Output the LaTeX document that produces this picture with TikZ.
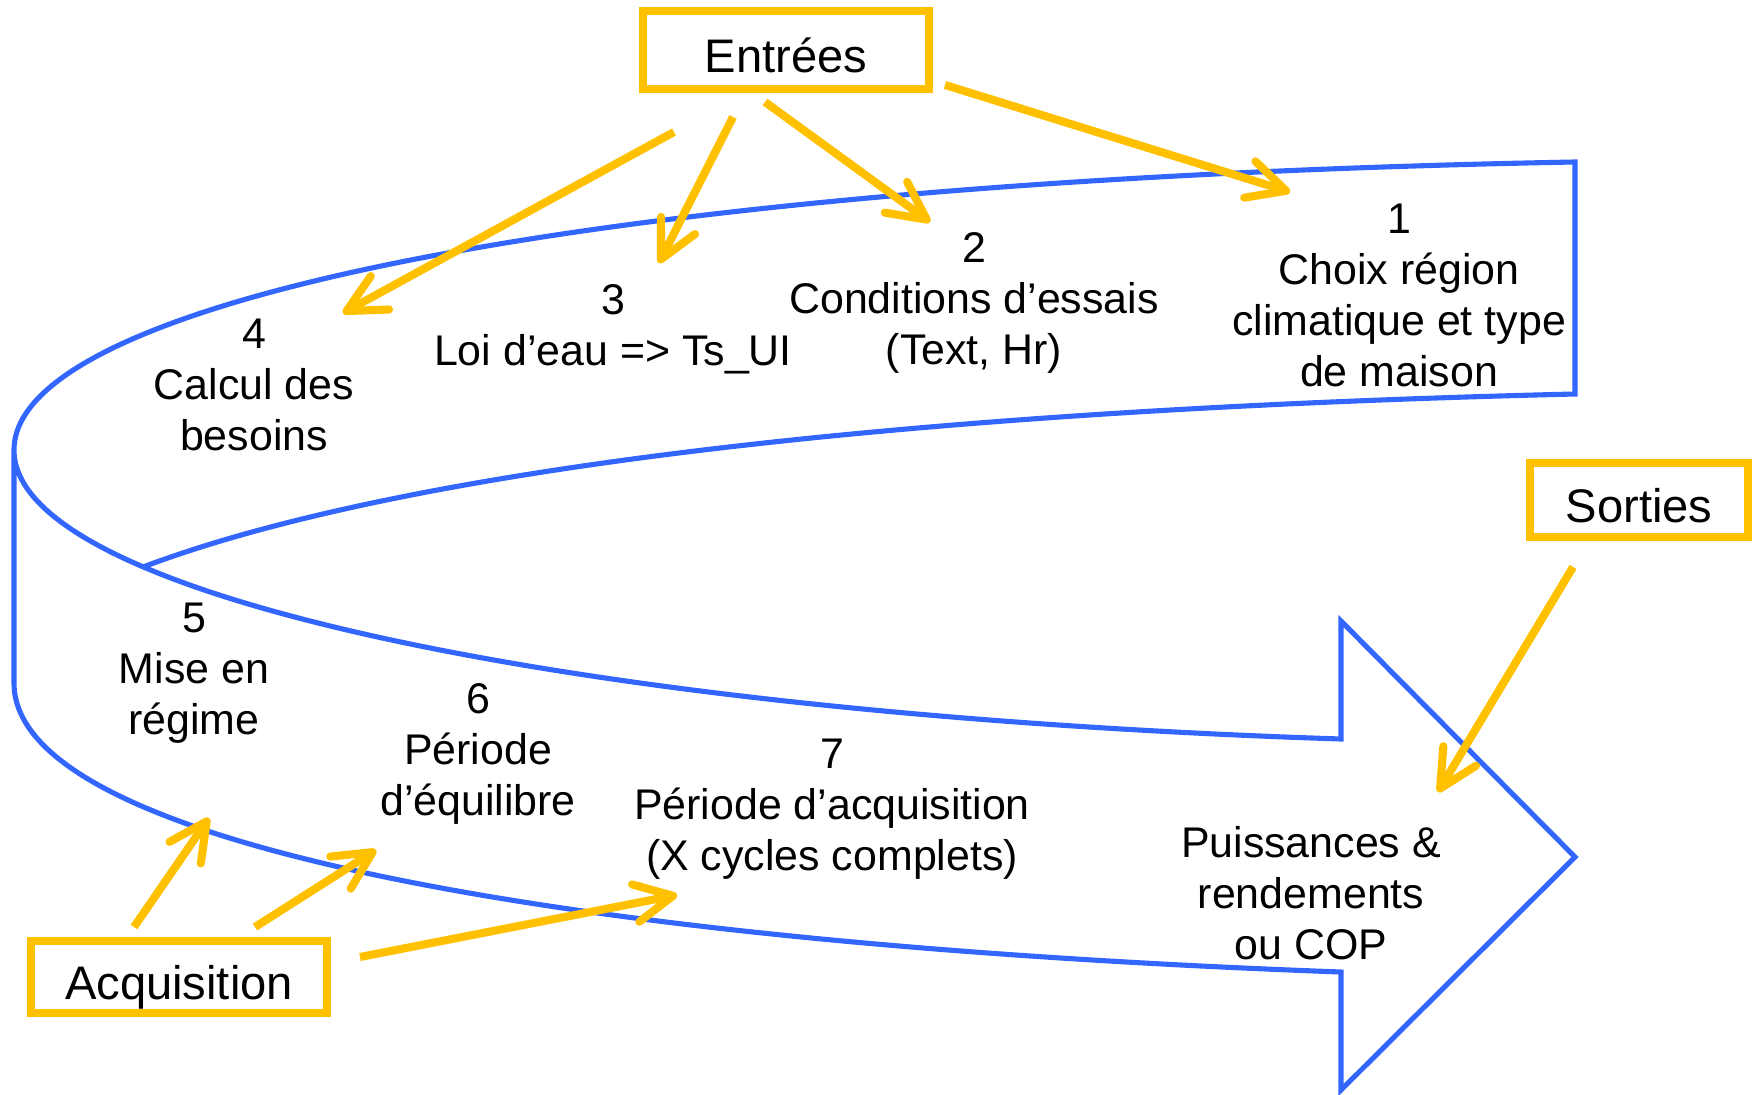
\documentclass[tikz,border=0pt]{standalone}
\usepackage{fontspec}
\setmainfont{Liberation Sans}
\usetikzlibrary{arrows.meta}
\definecolor{gold}{RGB}{255,192,0}
\definecolor{flowblue}{RGB}{51,102,255}
\tikzset{
  tag/.style={draw=gold,line width=2.2pt,inner sep=0pt,text height=0.45cm,text depth=0pt,font=\fontsize{13.4}{16}\selectfont},
  etape/.style={align=center,inner sep=0pt,font=\fontsize{12.2}{14.5}\selectfont},
  fleche/.style={draw=gold,line width=2.3pt,->}
}
\begin{document}
\begin{tikzpicture}[x=0.01cm,y=-0.01cm,>={Straight Barb[round,length=3.8mm,width=3.8mm]}]
\useasboundingbox (0,0) rectangle (1755,1094);
\draw[flowblue,line width=1.45pt]
  (14,450) -- (14,683) .. controls (14,850) and (600,945) .. (1341,972)
  -- (1341,1090) -- (1575,857) -- (1341,621) -- (1341,739)
  .. controls (600,715) and (14,600) .. (14,450)
  .. controls (14,300) and (600,180) .. (1575,162) -- (1575,394)
  .. controls (900,410) and (400,470) .. (143,567);
\node[tag,minimum width=2.86cm,minimum height=0.78cm] (entrees) at (786,50) {Entrées};
\node[tag,minimum width=2.18cm,minimum height=0.74cm] (sorties) at (1639,500) {Sorties};
\node[tag,minimum width=2.96cm,minimum height=0.72cm] (acqui) at (179,977) {Acquisition};
\node[etape] (s1) at (1399,295) {1\\Choix région\\climatique et type\\de maison};
\node[etape] (s2) at (974,303) {2\\Conditions d’essais\\(Text, Hr)};
\node[etape] (s3) at (613,329) {3\\Loi d’eau => Ts\_UI};
\node[etape] (s4) at (254,385) {4\\Calcul des\\besoins};
\node[etape] (s5) at (194,673) {5\\Mise en\\régime};
\node[etape] (s6) at (478,754) {6\\Période\\d’équilibre};
\node[etape] (s7) at (832,809) {7\\Période d’acquisition\\(X cycles complets)};
\node[etape] (res) at (1311,893) {Puissances \&\\rendements\\ou COP};
\coordinate (e1) at (945,85);   \coordinate (p1) at (1290,192);
\coordinate (e2) at (765,102);  \coordinate (p2) at (930,222);
\coordinate (e3) at (733,117);  \coordinate (p3) at (659,263);
\coordinate (e4) at (674,132);  \coordinate (p4) at (343,313);
\coordinate (a5) at (134,927);  \coordinate (p5) at (209,818);
\coordinate (a6) at (255,927);  \coordinate (p6) at (376,850);
\coordinate (a7) at (360,957);  \coordinate (p7) at (677,895);
\coordinate (so) at (1573,567); \coordinate (pr) at (1438,792);
\draw[fleche] (e1) -- (p1);
\draw[fleche] (e2) -- (p2);
\draw[fleche] (e3) -- (p3);
\draw[fleche] (e4) -- (p4);
\draw[fleche] (a5) -- (p5);
\draw[fleche] (a6) -- (p6);
\draw[fleche] (a7) -- (p7);
\draw[fleche] (so) -- (pr);
\end{tikzpicture}
\end{document}
